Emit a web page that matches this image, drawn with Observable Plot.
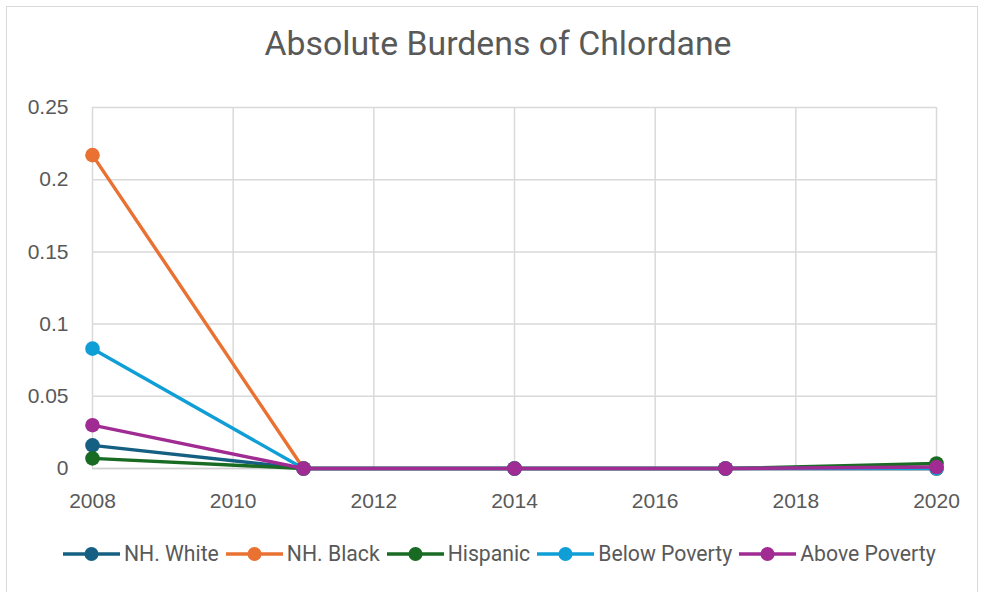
<!DOCTYPE html>
<html>
<head>
<meta charset="utf-8">
<script src="https://cdn.jsdelivr.net/npm/d3@7"></script>
<script src="https://cdn.jsdelivr.net/npm/@observablehq/plot@0.6"></script>
<style>
  body { margin: 0; background: #fff; }
  #chart { position: relative; width: 981px; height: 592px; overflow: hidden; background: #fff; }
  #frame { position: absolute; left: 6px; top: 6px; width: 972px; height: 600px; border: 1.5px solid #d9d9d9; box-sizing: border-box; }
  #title { position: absolute; left: 0; width: 996px; top: 24px; text-align: center; font-family: Roboto, sans-serif; font-size: 33.8px; color: #595959; }
  #plot { position: absolute; left: 0; top: 80px; }
  #legend { position: absolute; left: 63px; top: 541px; display: flex; align-items: center; font-family: Roboto, sans-serif; font-size: 21.2px; color: #595959; white-space: nowrap; }
  #legend .item { display: flex; align-items: center; margin-right: 7px; }
  #legend svg { display: block; }
  #legend span { margin-left: 4px; }
</style>
</head>
<body>
<div id="chart">
  <div id="frame"></div>
  <div id="title">Absolute Burdens of Chlordane</div>
  <div id="plot"></div>
  <div id="legend"></div>
</div>
<script>
// Survey years
const years = [2008, 2011, 2014, 2017, 2020];

// Absolute burden per group, one value per year
const nhWhite      = [0.016, 0, 0, 0, 0];
const nhBlack      = [0.217, 0, 0, 0, 0];
const hispanic     = [0.007, 0, 0, 0, 0.0035];
const belowPoverty = [0.083, 0, 0, 0, 0];
const abovePoverty = [0.030, 0, 0, 0, 0.001];

const seriesNames  = ["NH. White", "NH. Black", "Hispanic", "Below Poverty", "Above Poverty"];
const seriesValues = [nhWhite, nhBlack, hispanic, belowPoverty, abovePoverty];
const seriesColors = ["#156082", "#E97132", "#196B24", "#0F9ED5", "#A02B93"];

const xTicks = [2008, 2010, 2012, 2014, 2016, 2018, 2020];
const yTicks = [0, 0.05, 0.1, 0.15, 0.2, 0.25];

const rows = seriesNames.flatMap((name, i) =>
  years.map((year, j) => ({series: name, year, value: seriesValues[i][j]}))
);

// Each series draws its line and then its markers, in legend order
const seriesMarks = seriesNames.flatMap(name => {
  const d = rows.filter(r => r.series === name);
  return [
    Plot.line(d, {x: "year", y: "value", stroke: "series", strokeWidth: 3.4}),
    Plot.dot(d, {x: "year", y: "value", fill: "series", r: 7.3})
  ];
});

const chart = Plot.plot({
  width: 981,
  height: 450,
  marginLeft: 92,
  marginRight: 45,
  marginTop: 27,
  marginBottom: 62,
  style: {fontFamily: "'Liberation Sans', Arial, sans-serif", fontSize: "21px", color: "#595959", background: "transparent", overflow: "visible"},
  x: {domain: [2008, 2020], ticks: xTicks, tickFormat: d => String(d), tickSize: 0, tickPadding: 25, label: null},
  y: {domain: [0, 0.25], ticks: yTicks, tickFormat: d => String(+d.toFixed(2)), tickSize: 0, tickPadding: 24, label: null},
  color: {domain: seriesNames, range: seriesColors},
  marks: [
    Plot.gridX(xTicks, {stroke: "#d9d9d9", strokeOpacity: 1, strokeWidth: 1.5}),
    Plot.gridY(yTicks, {stroke: "#d9d9d9", strokeOpacity: 1, strokeWidth: 1.5}),
    Plot.ruleY([0], {stroke: "#d0d0d0", strokeWidth: 1.5}),
    Plot.axisX({ticks: xTicks, tickFormat: d => String(d), tickSize: 0, tickPadding: 25, fill: "#595959"}),
    Plot.axisY({ticks: yTicks, tickFormat: d => String(+d.toFixed(2)), tickSize: 0, tickPadding: 24, fill: "#595959"}),
    ...seriesMarks
  ]
});
document.getElementById("plot").appendChild(chart);

// Legend: line-and-marker swatches with labels
const legend = d3.select("#legend");
seriesNames.forEach((name, i) => {
  const item = legend.append("div").attr("class", "item");
  const sw = item.append("svg").attr("width", 57).attr("height", 22);
  sw.append("line").attr("x1", 0).attr("x2", 57).attr("y1", 11).attr("y2", 11)
    .attr("stroke", seriesColors[i]).attr("stroke-width", 3.4);
  sw.append("circle").attr("cx", 28.5).attr("cy", 11).attr("r", 7).attr("fill", seriesColors[i]);
  item.append("span").text(name);
});
</script>
</body>
</html>
